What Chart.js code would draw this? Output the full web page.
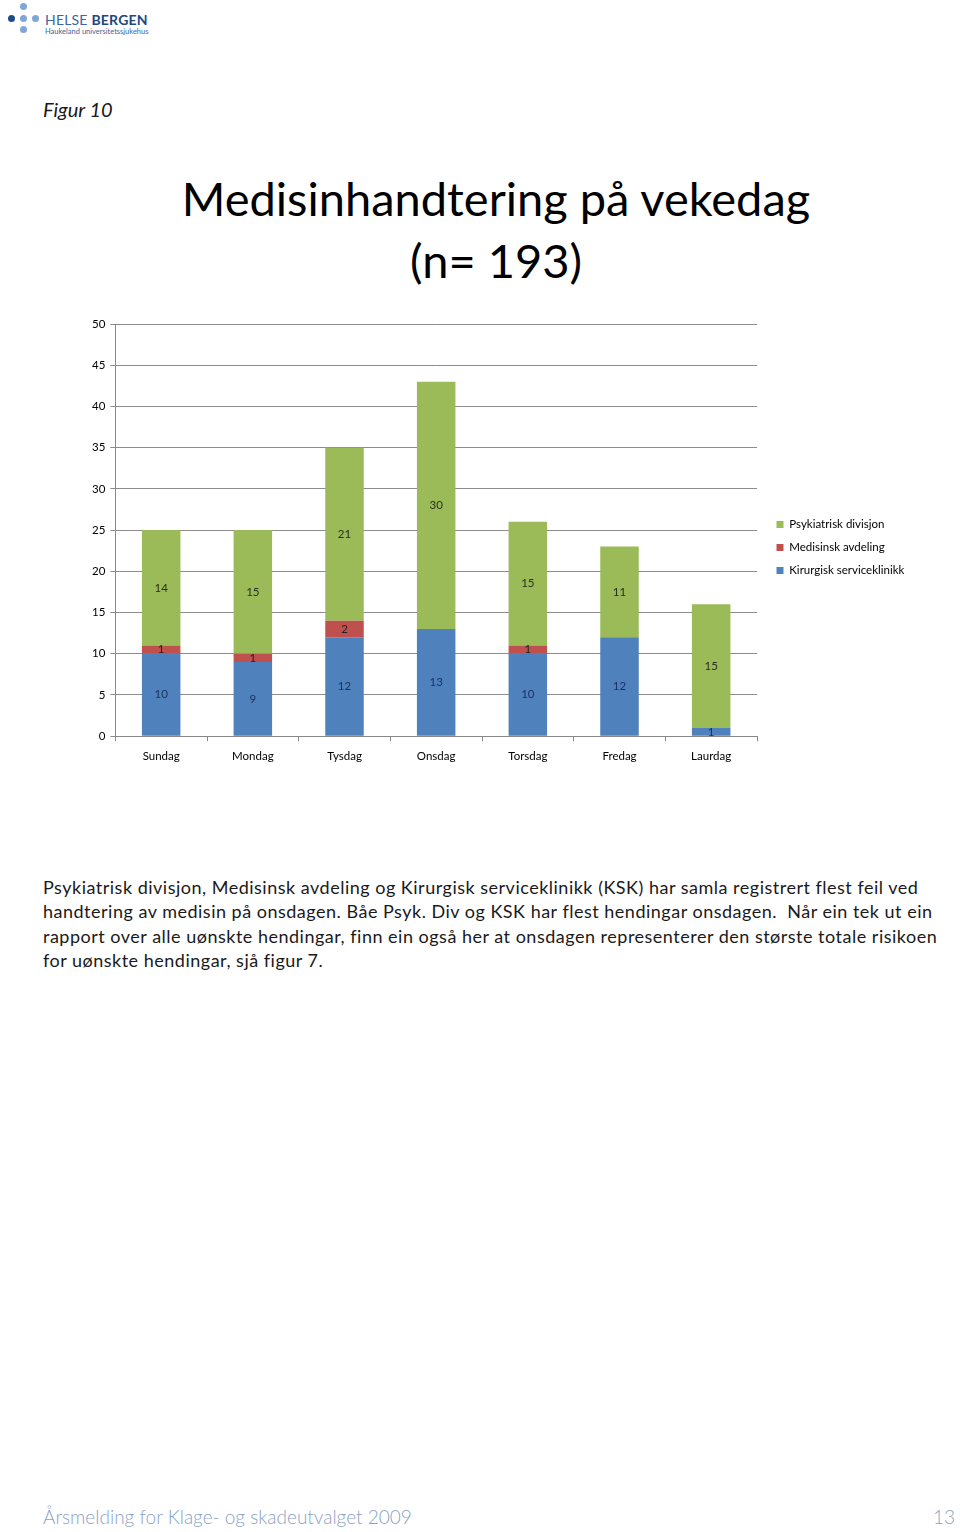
<!DOCTYPE html>
<html lang="no">
<head>
    <meta charset="UTF-8" />
    <title>Medisinhandtering på vekedag</title>
    <script src="https://cdn.jsdelivr.net/npm/chart.js"></script>
    <style>
        body { margin: 0; width: 960px; height: 1532px; position: relative; background: #fff; font-family: Lato, "Noto Sans", sans-serif; color: #1a1a1a; }
        .logo { position: absolute; left: 8px; top: 3px; }
        .dot { position: absolute; width: 7px; height: 7px; border-radius: 50%; background: #7fa6d6; }
        .logo-name { position: absolute; left: 37px; top: 8px; font-size: 14px; color: #3c64a0; white-space: nowrap; letter-spacing: 0.2px; }
        .logo-name b { color: #23477f; }
        .logo-sub { position: absolute; left: 37px; top: 24px; font-size: 7.5px; color: #3c64a0; white-space: nowrap; }
        .figur { position: absolute; left: 43px; top: 97px; font-size: 20px; font-style: italic; }
        .title { position: absolute; left: 0; width: 992px; text-align: center; font-size: 47px; line-height: 62px; top: 167px; color: #000; }
        #chartBox { position: absolute; left: 87px; top: 310px; width: 828px; height: 461px; }
        .text { position: absolute; left: 43px; top: 875px; font-size: 18px; letter-spacing: 0.5px; line-height: 24.3px; white-space: nowrap; }
        .foot { position: absolute; top: 1505px; font-size: 19px; font-weight: 300; color: #8aa1c6; }
    </style>
</head>
<body>
    <div class="logo">
        <span class="dot" style="left:12px;top:0px"></span>
        <span class="dot" style="left:0px;top:12px;background:#1f4a8a"></span>
        <span class="dot" style="left:12px;top:12px"></span>
        <span class="dot" style="left:24px;top:12px"></span>
        <span class="dot" style="left:12px;top:23px"></span>
        <div class="logo-name">HELSE <b>BERGEN</b></div>
        <div class="logo-sub">Haukeland universitetssjukehus</div>
    </div>

    <div class="figur">Figur 10</div>
    <div class="title">Medisinhandtering på vekedag<br>(n= 193)</div>

    <div id="chartBox"><canvas id="dagChart"></canvas></div>

    <div class="text">
        Psykiatrisk divisjon, Medisinsk avdeling og Kirurgisk serviceklinikk (KSK) har samla registrert flest feil ved<br>
        handtering av medisin på onsdagen. Båe Psyk. Div og KSK har flest hendingar onsdagen.&nbsp; Når ein tek ut ein<br>
        rapport over alle uønskte hendingar, finn ein også her at onsdagen representerer den største totale risikoen<br>
        for uønskte hendingar, sjå figur 7.
    </div>

    <div class="foot" style="left:43px">Årsmelding for Klage- og skadeutvalget 2009</div>
    <div class="foot" style="right:5px">13</div>

    <script>
    // Data lest av figuren
    const dagar = ['Sundag', 'Mondag', 'Tysdag', 'Onsdag', 'Torsdag', 'Fredag', 'Laurdag'];
    const kirurgisk = [10, 9, 12, 13, 10, 12, 1];
    const medisinsk = [1, 1, 2, 0, 1, 0, 0];
    const psykiatrisk = [14, 15, 21, 30, 15, 11, 15];
    const yTicks = [0, 5, 10, 15, 20, 25, 30, 35, 40, 45, 50];

    const fontFamily = 'Lato, "Noto Sans", sans-serif';

    // Tal midt i kvar stolpe (ingen datalabels-plugin tilgjengeleg)
    const barLabels = {
        id: 'barLabels',
        afterDatasetsDraw(chart) {
            const ctx = chart.ctx;
            ctx.save();
            ctx.font = '11.5px ' + fontFamily;
            ctx.textAlign = 'center';
            ctx.textBaseline = 'middle';
            chart.data.datasets.forEach((ds, i) => {
                const meta = chart.getDatasetMeta(i);
                meta.data.forEach((bar, j) => {
                    const v = ds.data[j];
                    if (!v) return;
                    ctx.fillStyle = ds.labelColor;
                    ctx.fillText(v, bar.x, (bar.y + bar.base) / 2);
                });
            });
            ctx.restore();
        }
    };

    // Forklaringa vert klipt i høgre kant, så gje ho litt meir breidd
    const legendRoom = {
        id: 'legendRoom',
        afterInit(chart) {
            const legend = chart.legend;
            const fit = legend.fit;
            legend.fit = function () {
                fit.call(this);
                this.width += 12;
            };
        }
    };

    new Chart(document.getElementById('dagChart'), {
        type: 'bar',
        data: {
            labels: dagar,
            datasets: [
                { label: 'Kirurgisk serviceklinikk', data: kirurgisk, backgroundColor: '#4f81bd', labelColor: '#1d3260' },
                { label: 'Medisinsk avdeling', data: medisinsk, backgroundColor: '#c0504d', labelColor: '#222' },
                { label: 'Psykiatrisk divisjon', data: psykiatrisk, backgroundColor: '#9bbb59', labelColor: '#2a2f1c' }
            ]
        },
        options: {
            responsive: true,
            maintainAspectRatio: false,
            animation: false,
            layout: { padding: { top: 14, right: 0, left: 0, bottom: 0 } },
            datasets: { bar: { barPercentage: 0.42, categoryPercentage: 1 } },
            plugins: {
                legend: {
                    position: 'right',
                    reverse: true,
                    labels: { boxWidth: 7, boxHeight: 7, font: { size: 11.5, family: fontFamily }, color: '#000', padding: 11.5 }
                },
                tooltip: { enabled: false }
            },
            scales: {
                x: {
                    stacked: true,
                    grid: { offset: true, drawOnChartArea: false, color: '#888', tickLength: 5 },
                    border: { color: '#888' },
                    ticks: { color: '#000', font: { size: 11.5, family: fontFamily }, padding: 8 }
                },
                y: {
                    stacked: true,
                    min: 0,
                    max: 50,
                    afterBuildTicks(axis) { axis.ticks = yTicks.map(v => ({ value: v })); },
                    grid: { color: '#8c8c8c', tickLength: 5 },
                    border: { color: '#888' },
                    ticks: { color: '#000', font: { size: 11.5, family: fontFamily }, padding: 5 }
                },
                // tom akse: luft mellom plottet og forklaringa
                gap: {
                    position: 'right',
                    display: true,
                    grid: { display: false },
                    border: { display: false },
                    ticks: { display: false },
                    afterFit(axis) { axis.width = 8; }
                }
            }
        },
        plugins: [barLabels, legendRoom]
    });
    </script>
</body>
</html>
